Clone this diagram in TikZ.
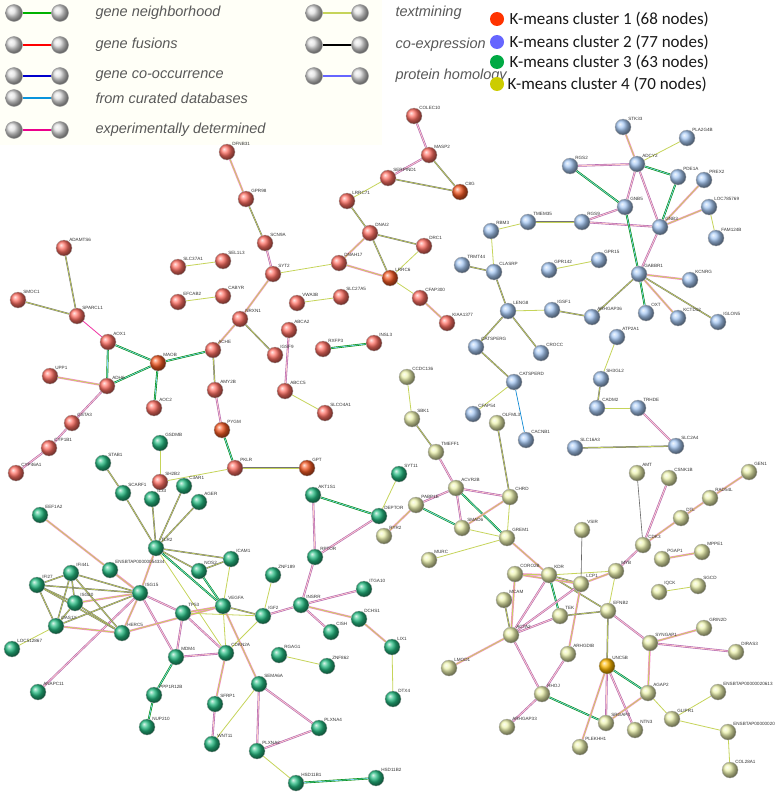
\documentclass[tikz,border=0pt]{standalone}
\usepackage{fontspec}
\setmainfont{Liberation Sans}
\newfontfamily\carl{Carlito}
\usetikzlibrary{backgrounds}
\definecolor{tmc}{HTML}{C6D45A}
\definecolor{cR}{HTML}{FF6F63}
\definecolor{cO}{HTML}{F55A25}
\definecolor{cB}{HTML}{A8CAF5}
\definecolor{cG}{HTML}{25BC82}
\definecolor{cY}{HTML}{EEF4B0}
\definecolor{lgR}{HTML}{FF3300}
\definecolor{lgB}{HTML}{6666FF}
\definecolor{lgG}{HTML}{00AA44}
\definecolor{lgY}{HTML}{CCCC00}
\tikzset{
 nd/.style={circle,minimum size=16pt,inner sep=0pt,draw=black!30,line width=0.3pt,shading=ball,ball color=#1},
 lbl/.style={font=\fontsize{4.6}{5}\selectfont,text=black!80,inner sep=0.5pt,label distance=-1pt},
 tm/.style={draw=tmc,line width=0.8pt},
 dk/.style={draw=black!55,double=tmc,double distance=0.6pt,line width=0.45pt},
 pk/.style={draw=magenta!45,double=tmc,double distance=0.8pt,line width=0.6pt},
 pu/.style={draw=violet!60,double=pink!80,double distance=0.8pt,line width=0.6pt},
 gr/.style={draw=green!55!black,double=cyan!50,double distance=0.7pt,line width=0.6pt},
 cy/.style={draw=cyan!70!blue,line width=0.7pt},
 mg/.style={draw=magenta!80,line width=0.8pt},
 gy/.style={draw=black!60,line width=0.6pt},
 lgt/.style={font=\fontsize{14.5}{15}\selectfont\itshape,text=black!65,anchor=west},
 lgb/.style={circle,minimum size=17pt,inner sep=0pt,draw=black!40,shading=ball,ball color=black!12},
 kt/.style={font=\carl\fontsize{17}{17}\selectfont,anchor=west,text=black!90}
}
\newcommand\N[5]{\node[nd=#1,label={[lbl]50:#5}] (#2) at (#3,#4) {};}
\newcommand\E[3]{\draw[#1] (#2) -- (#3);}
\newcommand\LG[4]{\node[lgb] (#1a) at (#3,#4) {}; \node[lgb] (#1b) at (#3+46,#4) {};
 \begin{pgfonlayer}{background}\draw[#2,line width=2.2pt] (#1a) -- (#1b);\end{pgfonlayer}}
\begin{document}
\begin{tikzpicture}[x=1pt,y=-1pt]
\useasboundingbox (0,0) rectangle (783,792);
\begin{pgfonlayer}{background}
\fill[white] (0,0) rectangle (783,792);
\fill[yellow!3!white] (0,0) rectangle (382,145);
\end{pgfonlayer}
% legend
\LG{l1}{green!70!black}{14}{13}
\LG{l2}{red}{14}{45}
\LG{l3}{blue!80!black}{14}{76}
\LG{l4}{cyan!80!blue}{14}{98}
\LG{l5}{magenta}{14}{130}
\LG{l6}{tmc}{314}{13}
\LG{l7}{black}{314}{45}
\LG{l8}{blue!60}{314}{76}
\node[lgt] at (92,13) {gene neighborhood};
\node[lgt] at (92,45) {gene fusions};
\node[lgt] at (92,76) {gene co-occurrence};
\node[lgt] at (92,98) {from curated databases};
\node[lgt] at (92,130) {experimentally determined};
\node[lgt] at (392,13) {textmining};
\node[lgt] at (392,45) {co-expression};
\node[lgt] at (392,76) {protein homology};
\fill[lgR] (497,19) circle (7);
\fill[lgB] (497,42) circle (7);
\fill[lgG] (497,62) circle (7);
\fill[lgY] (497,84) circle (7);
\node[kt] at (506,19) {K-means cluster 1 (68 nodes)};
\node[kt] at (506,42) {K-means cluster 2 (77 nodes)};
\node[kt] at (506,62) {K-means cluster 3 (63 nodes)};
\node[kt] at (504,84) {K-means cluster 4 (70 nodes)};
% red
\N{cR}{DFNB31}{227}{152}{DFNB31}
\N{cR}{GPR98}{246}{199}{GPR98}
\N{cR}{SCN9A}{265}{243}{SCN9A}
\N{cR}{SYT2}{273}{274}{SYT2}
\N{cR}{ADAMTS6}{64}{248}{ADAMTS6}
\N{cR}{SLC37A1}{178}{267}{SLC37A1}
\N{cR}{SEL1L3}{223}{261}{SEL1L3}
\N{cR}{EFCAB2}{178}{302}{EFCAB2}
\N{cR}{CABYR}{223}{296}{CABYR}
\N{cR}{SMOC1}{18}{300}{SMOC1}
\N{cR}{SPARCL1}{77}{316}{SPARCL1}
\N{cR}{MXN1}{240}{319}{NRXN1}
\N{cR}{AOX1}{108}{342}{AOX1}
\N{cR}{ACHE}{213}{350}{ACHE}
\N{cO}{MAOB}{158}{363}{MAOB}
\N{cR}{UPP1}{50}{376}{UPP1}
\N{cR}{ADH6}{107}{386}{ADH6}
\N{cR}{AOC2}{154}{408}{AOC2}
\N{cR}{AMY2B}{215}{390}{AMY2B}
\N{cR}{GSTA3}{72}{423}{GSTA3}
\N{cR}{CYP1B1}{49}{448}{CYP1B1}
\N{cR}{CYP46A1}{16}{473}{CYP46A1}
\N{cO}{PYGM}{222}{430}{PYGM}
\N{cR}{PKLR}{235}{468}{PKLR}
\N{cO}{GPT}{307}{468}{GPT}
\N{cR}{SH2B2}{160}{482}{SH2B2}
\N{cR}{COLEC10}{414}{116}{COLEC10}
\N{cR}{MASP2}{429}{155}{MASP2}
\N{cR}{SERPIND1}{388}{178}{SERPIND1}
\N{cO}{C8G}{460}{192}{C8G}
\N{cR}{LRRC71}{347}{201}{LRRC71}
\N{cR}{DNAI2}{370}{233}{DNAI2}
\N{cR}{DRC1}{424}{246}{DRC1}
\N{cR}{DNAH17}{339}{263}{DNAH17}
\N{cO}{LRRC6}{390}{278}{LRRC6}
\N{cR}{CFAP300}{420}{298}{CFAP300}
\N{cR}{KIAA1377}{447}{323}{KIAA1377}
\N{cR}{VWA3B}{297}{303}{VWA3B}
\N{cR}{SLC27A5}{341}{297}{SLC27A5}
\N{cR}{ABCA2}{289}{330}{ABCA2}
\N{cR}{IGSF9}{275}{355}{IGSF9}
\N{cR}{ABCC5}{285}{391}{ABCC5}
\N{cR}{SLCO4A1}{325}{413}{SLCO4A1}
\N{cR}{RXFP3}{323}{349}{RXFP3}
\N{cR}{INSL3}{374}{343}{INSL3}
% blue
\N{cB}{STK33}{623}{127}{STK33}
\N{cB}{PLA2G4B}{687}{138}{PLA2G4B}
\N{cB}{RGS2}{570}{166}{RGS2}
\N{cB}{ADCY2}{637}{164}{ADCY2}
\N{cB}{PDE1A}{678}{177}{PDE1A}
\N{cB}{PREX2}{704}{180}{PREX2}
\N{cB}{GNB5}{625}{207}{GNB5}
\N{cB}{LOC785769}{709}{207}{LOC785769}
\N{cB}{RGS9}{582}{222}{RGS9}
\N{cB}{TMEM35}{528}{222}{TMEM35}
\N{cB}{GNB3}{660}{227}{GNB3}
\N{cB}{RBM3}{491}{231}{RBM3}
\N{cB}{FAM124B}{716}{238}{FAM124B}
\N{cB}{TRMT44}{462}{265}{TRMT44}
\N{cB}{CLASRP}{494}{272}{CLASRP}
\N{cB}{GPR142}{549}{270}{GPR142}
\N{cB}{GPR15}{599}{260}{GPR15}
\N{cB}{GABBR1}{639}{274}{GABBR1}
\N{cB}{KCNRG}{690}{280}{KCNRG}
\N{cB}{LENG8}{508}{311}{LENG8}
\N{cB}{IGSF1}{552}{310}{IGSF1}
\N{cB}{ARHGAP36}{592}{317}{ARHGAP36}
\N{cB}{OXT}{646}{313}{OXT}
\N{cB}{KCTD12}{678}{318}{KCTD12}
\N{cB}{IGLON5}{718}{322}{IGLON5}
\N{cB}{ATP2A1}{617}{337}{ATP2A1}
\N{cB}{CATSPERG}{476}{347}{CATSPERG}
\N{cB}{CROCC}{541}{353}{CROCC}
\N{cB}{CATSPERD}{514}{382}{CATSPERD}
\N{cB}{SH3GL2}{601}{379}{SH3GL2}
\N{cB}{CFAP54}{473}{414}{CFAP54}
\N{cB}{CADM2}{597}{408}{CADM2}
\N{cB}{TRHDE}{638}{408}{TRHDE}
\N{cB}{CACNB1}{526}{440}{CACNB1}
\N{cB}{SLC16A3}{575}{448}{SLC16A3}
\N{cB}{SLC2A4}{676}{446}{SLC2A4}
% green
\N{cG}{GSDMB}{160}{443}{GSDMB}
\N{cG}{STAB1}{103}{463}{STAB1}
\N{cG}{C3AR1}{184}{486}{C3AR1}
\N{cG}{SCARF1}{123}{493}{SCARF1}
\N{cG}{IL33}{152}{499}{IL33}
\N{cG}{AGER}{199}{502}{AGER}
\N{cG}{EEF1A2}{40}{515}{EEF1A2}
\N{cG}{AKT1S1}{313}{495}{AKT1S1}
\N{cG}{DEPTOR}{379}{516}{DEPTOR}
\N{cG}{SYT11}{399}{474}{SYT11}
\N{cG}{TLR2}{156}{548}{TLR2}
\N{cG}{RPTOR}{315}{557}{RPTOR}
\N{cG}{ICAM1}{231}{559}{ICAM1}
\N{cG}{ENS5}{110}{570}{ENSBTAP00000054334}
\N{cG}{NOS2}{199}{571}{NOS2}
\N{cG}{IFI44L}{71}{573}{IFI44L}
\N{cG}{ZNF189}{273}{575}{ZNF189}
\N{cG}{IFI27}{37}{585}{IFI27}
\N{cG}{ITGA10}{364}{589}{ITGA10}
\N{cG}{ISG15}{140}{593}{ISG15}
\N{cG}{ISG20}{75}{603}{ISG20}
\N{cG}{VEGFA}{223}{606}{VEGFA}
\N{cG}{INSRR}{301}{605}{INSRR}
\N{cG}{TP53}{183}{613}{TP53}
\N{cG}{IGF2}{263}{616}{IGF2}
\N{cG}{DCHS1}{359}{619}{DCHS1}
\N{cG}{OAS1Y}{56}{626}{OAS1Y}
\N{cG}{HERC5}{122}{633}{HERC5}
\N{cG}{CISH}{331}{632}{CISH}
\N{cG}{LOC512867}{12}{649}{LOC512867}
\N{cG}{LIX1}{392}{647}{LIX1}
\N{cG}{MDM4}{176}{657}{MDM4}
\N{cG}{CDKN2A}{226}{653}{CDKN2A}
\N{cG}{RGAG1}{279}{655}{RGAG1}
\N{cG}{ZNF862}{327}{666}{ZNF862}
\N{cG}{SEMA6A}{259}{684}{SEMA6A}
\N{cG}{ANAPC11}{38}{692}{ANAPC11}
\N{cG}{PPP1R12B}{154}{695}{PPP1R12B}
\N{cG}{SFRP1}{215}{704}{SFRP1}
\N{cG}{DTX4}{393}{699}{DTX4}
\N{cG}{PLXNA4}{319}{728}{PLXNA4}
\N{cG}{NUP210}{147}{727}{NUP210}
\N{cG}{WNT11}{212}{744}{WNT11}
\N{cG}{PLXNA2}{257}{751}{PLXNA2}
\N{cG}{HSD11B1}{296}{783}{HSD11B1}
\N{cG}{HSD11B2}{376}{778}{HSD11B2}
% yellow
\N{cY}{CCDC136}{407}{377}{CCDC136}
\N{cY}{SBK1}{412}{419}{SBK1}
\N{cY}{OLFML3}{497}{423}{OLFML3}
\N{cY}{TMEFF1}{436}{452}{TMEFF1}
\N{cY}{AMT}{637}{473}{AMT}
\N{cY}{CSNK1B}{669}{478}{CSNK1B}
\N{cY}{GEN1}{749}{472}{GEN1}
\N{cY}{ACVR2B}{456}{488}{ACVR2B}
\N{cY}{PABP1E}{416}{505}{PABP1E}
\N{cY}{CHRD}{510}{497}{CHRD}
\N{cY}{RAD54L}{710}{498}{RAD54L}
\N{cY}{DTL}{681}{518}{DTL}
\N{cY}{SMAD6}{462}{528}{SMAD6}
\N{cY}{RYR2}{384}{536}{RYR2}
\N{cY}{GREM1}{507}{538}{GREM1}
\N{cY}{VSIR}{582}{530}{VSIR}
\N{cY}{CDK3}{643}{545}{CDK3}
\N{cY}{MPPE1}{702}{552}{MPPE1}
\N{cY}{PGAP1}{662}{559}{PGAP1}
\N{cY}{MURC}{429}{560}{MURC}
\N{cY}{CORO2B}{515}{574}{CORO2B}
\N{cY}{KDR}{549}{575}{KDR}
\N{cY}{MYB}{616}{571}{MYB}
\N{cY}{LCP1}{581}{584}{LCP1}
\N{cY}{IQCK}{659}{592}{IQCK}
\N{cY}{SGCD}{698}{586}{SGCD}
\N{cY}{MCAM}{504}{600}{MCAM}
\N{cY}{EFNB2}{608}{611}{EFNB2}
\N{cY}{TEK}{560}{616}{TEK}
\N{cY}{ACTA2}{511}{635}{ACTA2}
\N{cY}{GRIN2D}{704}{628}{GRIN2D}
\N{cY}{SYNGAP1}{650}{643}{SYNGAP1}
\N{cY}{DIRAS3}{736}{652}{DIRAS3}
\N{cY}{ARHGDIB}{568}{654}{ARHGDIB}
\N{cY}{LMOD1}{449}{668}{LMOD1}
\N{orange!55!yellow}{UNC5B}{607}{666}{UNC5B}
\N{cY}{RHOJ}{542}{694}{RHOJ}
\N{cY}{AGAP2}{648}{693}{AGAP2}
\N{cY}{ENSA}{718}{692}{ENSBTAP00000020613}
\N{cY}{GLIPR1}{672}{719}{GLIPR1}
\N{cY}{SRGAP3}{606}{723}{SRGAP3}
\N{cY}{NTN3}{635}{730}{NTN3}
\N{cY}{ENSB}{728}{732}{ENSBTAP00000020}
\N{cY}{ARHGAP33}{507}{727}{ARHGAP33}
\N{cY}{PLEKHH1}{580}{747}{PLEKHH1}
\N{cY}{COL28A1}{730}{770}{COL28A1}
\begin{pgfonlayer}{background}
% red edges
\E{pk}{DFNB31}{GPR98}\E{dk}{GPR98}{SCN9A}\E{pu}{SCN9A}{SYT2}\E{pk}{SYT2}{MXN1}\E{tm}{SYT2}{DNAH17}
\E{tm}{SLC37A1}{SEL1L3}\E{tm}{EFCAB2}{CABYR}\E{dk}{ADAMTS6}{SPARCL1}\E{dk}{SMOC1}{SPARCL1}
\E{mg}{SPARCL1}{AOX1}\E{gr}{AOX1}{MAOB}\E{gr}{AOX1}{ADH6}\E{gr}{ADH6}{MAOB}\E{pk}{UPP1}{ADH6}
\E{pu}{ADH6}{GSTA3}\E{pu}{GSTA3}{CYP1B1}\E{pu}{CYP1B1}{CYP46A1}\E{gr}{MAOB}{ACHE}\E{gr}{MAOB}{AOC2}
\E{pk}{MXN1}{ACHE}\E{dk}{MXN1}{IGSF9}\E{dk}{ACHE}{AMY2B}\E{pu}{AMY2B}{PYGM}\E{gr}{PYGM}{PKLR}
\E{dk}{PKLR}{GPT}\E{tm}{SH2B2}{PKLR}\E{tm}{GSDMB}{SH2B2}\E{pu}{ABCA2}{ABCC5}\E{tm}{ABCC5}{SLCO4A1}
\E{tm}{VWA3B}{SLC27A5}\E{gr}{RXFP3}{INSL3}\E{pu}{COLEC10}{MASP2}\E{pu}{MASP2}{SERPIND1}
\E{dk}{MASP2}{C8G}\E{dk}{SERPIND1}{C8G}\E{tm}{SERPIND1}{LRRC71}\E{dk}{LRRC71}{DNAI2}
\E{dk}{DNAI2}{DRC1}\E{pk}{DNAI2}{DNAH17}\E{dk}{DNAI2}{LRRC6}\E{pk}{DNAH17}{LRRC6}\E{tm}{DRC1}{LRRC6}
\E{tm}{LRRC6}{CFAP300}\E{pk}{CFAP300}{KIAA1377}
% blue edges
\E{pk}{STK33}{ADCY2}\E{tm}{PLA2G4B}{ADCY2}\E{pu}{RGS2}{ADCY2}\E{gr}{RGS2}{GNB5}\E{pu}{ADCY2}{GNB5}
\E{gr}{ADCY2}{PDE1A}\E{pu}{ADCY2}{GNB3}\E{gr}{PDE1A}{GNB3}\E{pk}{PREX2}{GNB3}\E{pk}{LOC785769}{GNB3}
\E{tm}{LOC785769}{FAM124B}\E{pu}{GNB5}{RGS9}\E{dk}{RGS9}{TMEM35}\E{pu}{RGS9}{GNB3}\E{gr}{GNB5}{GABBR1}
\E{pu}{GNB3}{GABBR1}\E{tm}{TMEM35}{RBM3}\E{tm}{RBM3}{CLASRP}\E{dk}{TRMT44}{CLASRP}\E{dk}{CLASRP}{LENG8}
\E{tm}{GPR142}{GPR15}\E{pk}{GABBR1}{KCNRG}\E{dk}{GABBR1}{ARHGAP36}\E{gr}{GABBR1}{OXT}\E{pk}{GABBR1}{KCTD12}
\E{dk}{GABBR1}{IGLON5}\E{tm}{LENG8}{IGSF1}\E{dk}{IGSF1}{ARHGAP36}\E{dk}{LENG8}{CATSPERG}\E{dk}{LENG8}{CROCC}
\E{dk}{CATSPERG}{CATSPERD}\E{tm}{CATSPERD}{CFAP54}\E{cy}{CATSPERD}{CACNB1}\E{tm}{ATP2A1}{SH3GL2}
\E{dk}{SH3GL2}{CADM2}\E{tm}{CADM2}{TRHDE}\E{pu}{TRHDE}{SLC2A4}\E{dk}{SLC16A3}{SLC2A4}
% green edges
\E{dk}{STAB1}{SCARF1}\E{dk}{SCARF1}{TLR2}\E{dk}{IL33}{TLR2}\E{dk}{C3AR1}{TLR2}\E{dk}{AGER}{TLR2}
\E{dk}{TLR2}{ICAM1}\E{dk}{TLR2}{NOS2}\E{pk}{TLR2}{ISG15}\E{gr}{TLR2}{VEGFA}\E{tm}{TLR2}{CDKN2A}
\E{pk}{EEF1A2}{ISG15}\E{pk}{ENS5}{ISG15}\E{dk}{IFI44L}{ISG15}\E{dk}{IFI27}{ISG15}\E{pk}{ISG20}{ISG15}
\E{dk}{OAS1Y}{ISG15}\E{pk}{HERC5}{ISG15}\E{pu}{ANAPC11}{ISG15}\E{pu}{ISG15}{TP53}\E{pu}{ISG15}{MDM4}
\E{dk}{IFI27}{IFI44L}\E{dk}{IFI27}{ISG20}\E{dk}{IFI27}{OAS1Y}\E{dk}{IFI27}{HERC5}\E{dk}{IFI44L}{ISG20}
\E{dk}{IFI44L}{OAS1Y}\E{dk}{IFI44L}{HERC5}\E{dk}{ISG20}{OAS1Y}\E{dk}{ISG20}{HERC5}\E{pk}{OAS1Y}{HERC5}
\E{tm}{OAS1Y}{LOC512867}\E{pk}{HERC5}{VEGFA}\E{dk}{NOS2}{ICAM1}\E{gr}{NOS2}{VEGFA}\E{tm}{ICAM1}{VEGFA}
\E{pk}{TP53}{VEGFA}\E{tm}{TP53}{IGF2}\E{dk}{VEGFA}{IGF2}\E{tm}{VEGFA}{CDKN2A}\E{pk}{VEGFA}{SEMA6A}
\E{pu}{TP53}{MDM4}\E{pu}{TP53}{CDKN2A}\E{pu}{MDM4}{CDKN2A}\E{gr}{MDM4}{PPP1R12B}\E{gr}{PPP1R12B}{NUP210}
\E{pk}{CDKN2A}{SFRP1}\E{pu}{SFRP1}{WNT11}\E{tm}{IGF2}{ZNF189}\E{pu}{IGF2}{INSRR}\E{tm}{IGF2}{CDKN2A}
\E{pu}{SEMA6A}{PLXNA4}\E{pu}{SEMA6A}{PLXNA2}\E{tm}{SEMA6A}{WNT11}\E{pu}{PLXNA2}{PLXNA4}
\E{tm}{PLXNA2}{HSD11B1}\E{gr}{HSD11B1}{HSD11B2}\E{pu}{AKT1S1}{RPTOR}\E{gr}{AKT1S1}{DEPTOR}
\E{pu}{RPTOR}{DEPTOR}\E{pu}{RPTOR}{INSRR}\E{pu}{INSRR}{ITGA10}\E{pk}{INSRR}{DCHS1}\E{pu}{INSRR}{CISH}
\E{pk}{DCHS1}{LIX1}\E{tm}{LIX1}{DTX4}\E{tm}{RGAG1}{ZNF862}\E{tm}{SYT11}{DEPTOR}\E{pk}{RYR2}{PABP1E}
% yellow edges
\E{tm}{CCDC136}{SBK1}\E{dk}{SBK1}{TMEFF1}\E{pu}{TMEFF1}{ACVR2B}\E{pu}{ACVR2B}{PABP1E}\E{pu}{ACVR2B}{CHRD}
\E{pu}{ACVR2B}{SMAD6}\E{gr}{ACVR2B}{GREM1}\E{gr}{PABP1E}{SMAD6}\E{dk}{OLFML3}{CHRD}\E{tm}{CHRD}{GREM1}
\E{pk}{CHRD}{SMAD6}\E{tm}{SMAD6}{GREM1}\E{tm}{MURC}{GREM1}\E{pk}{GREM1}{KDR}\E{pk}{KDR}{CORO2B}
\E{dk}{KDR}{LCP1}\E{tm}{KDR}{MYB}\E{gr}{KDR}{TEK}\E{pu}{KDR}{ACTA2}\E{dk}{KDR}{EFNB2}\E{pk}{CORO2B}{ACTA2}
\E{pk}{CORO2B}{LCP1}\E{dk}{MCAM}{ACTA2}\E{pu}{LCP1}{ACTA2}\E{pk}{LCP1}{MYB}\E{pk}{LCP1}{ARHGDIB}
\E{gy}{VSIR}{LCP1}\E{pu}{MYB}{CDK3}\E{tm}{MYB}{EFNB2}\E{gy}{AMT}{CDK3}\E{pu}{CSNK1B}{CDK3}\E{pk}{DTL}{CDK3}
\E{pk}{DTL}{RAD54L}\E{pk}{RAD54L}{GEN1}\E{pk}{PGAP1}{MPPE1}\E{tm}{IQCK}{SGCD}\E{dk}{TEK}{EFNB2}
\E{pu}{TEK}{ACTA2}\E{pu}{EFNB2}{SYNGAP1}\E{dk}{EFNB2}{UNC5B}\E{pk}{SYNGAP1}{GRIN2D}\E{pu}{SYNGAP1}{DIRAS3}
\E{pk}{SYNGAP1}{AGAP2}\E{pk}{ACTA2}{LMOD1}\E{pu}{ACTA2}{RHOJ}\E{pu}{ARHGDIB}{RHOJ}\E{pu}{RHOJ}{ARHGAP33}
\E{gr}{RHOJ}{SRGAP3}\E{pk}{UNC5B}{PLEKHH1}\E{pu}{UNC5B}{SRGAP3}\E{pu}{UNC5B}{NTN3}\E{gr}{UNC5B}{AGAP2}
\E{pk}{AGAP2}{SRGAP3}\E{tm}{AGAP2}{GLIPR1}\E{tm}{GLIPR1}{ENSA}\E{tm}{GLIPR1}{ENSB}\E{tm}{ENSB}{COL28A1}
\end{pgfonlayer}
\end{tikzpicture}
\end{document}
